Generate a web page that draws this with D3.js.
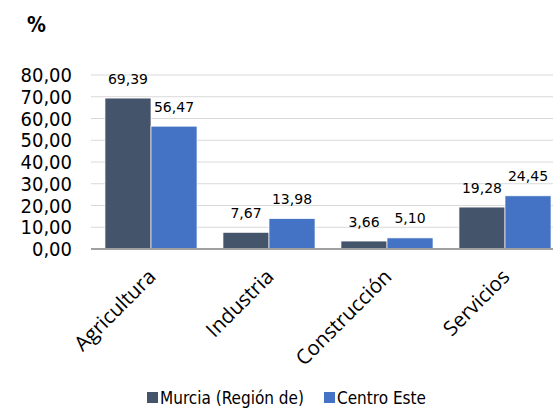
<!DOCTYPE html>
<html><head><meta charset="utf-8">
<script src="https://cdn.jsdelivr.net/npm/d3@7"></script>
<style>body{margin:0;background:#fff;}svg{display:block;}</style>
</head><body>
<svg id="c" width="553" height="411"></svg>
<script>
const categories = ["Agricultura", "Industria", "Construcción", "Servicios"];
const seriesNames = ["Murcia (Región de)", "Centro Este"];
const murcia = [69.39, 7.67, 3.66, 19.28];
const centroEste = [56.47, 13.98, 5.10, 24.45];
const yTicks = [0, 10, 20, 30, 40, 50, 60, 70, 80];
const colors = ["#44546A", "#4472C4"];

const svg = d3.select("#c");
const fmt = v => d3.format(".2f")(v).replace(".", ",");
const x = d3.scaleBand().domain(categories).range([92, 564]).paddingInner(0.22).paddingOuter(0.11);
const xs = d3.scaleBand().domain([0, 1]).range([0, x.bandwidth()]);
const y = d3.scaleLinear().domain([0, 80]).range([249, 75]);
const values = [murcia, centroEste];

// gridlines
svg.append("g").selectAll("line").data(yTicks.filter(d => d > 0)).join("line")
  .attr("x1", 91).attr("x2", 553).attr("y1", d => y(d)).attr("y2", d => y(d))
  .attr("stroke", "#d9d9d9").attr("stroke-width", 1);

// y labels
svg.append("g").selectAll("text").data(yTicks).join("text")
  .attr("x", 72).attr("y", d => y(d)).attr("dy", "0.36em")
  .attr("text-anchor", "end").attr("font-family", "DejaVu Sans Condensed")
  .attr("font-size", 20).attr("fill", "#000").text(fmt);

// bars
values.forEach((vals, si) => {
  svg.append("g").selectAll("rect").data(categories).join("rect")
    .attr("x", c => x(c) + xs(si)).attr("width", xs.bandwidth())
    .attr("y", (c, i) => y(vals[i])).attr("height", (c, i) => y(0) - y(vals[i]))
    .attr("fill", colors[si]).attr("stroke", "#ffffff").attr("stroke-width", 0.7);
  svg.append("g").selectAll("text").data(categories).join("text")
    .attr("x", c => x(c) + xs(si) + xs.bandwidth() / 2)
    .attr("y", (c, i) => y(vals[i]) - 14.5)
    .attr("text-anchor", "middle").attr("font-family", "DejaVu Sans")
    .attr("font-size", 14).attr("fill", "#000")
    .text((c, i) => fmt(vals[i]));
});

// axis line
svg.append("line").attr("x1", 91).attr("x2", 553).attr("y1", y(0)).attr("y2", y(0))
  .attr("stroke", "#a0a0a0").attr("stroke-width", 2);

// category labels
svg.append("g").selectAll("text").data(categories).join("text")
  .attr("transform", c => `translate(${x(c) + x.bandwidth() / 2 + 6},${y(0) + 29}) rotate(-45)`)
  .attr("text-anchor", "end").attr("font-family", "Open Sans")
  .attr("font-size", 20.5).attr("fill", "#000").text(c => c);

// % label
svg.append("text").attr("x", 27).attr("y", 32).attr("font-family", "DejaVu Sans Condensed")
  .attr("font-weight", "bold").attr("font-size", 21).attr("fill", "#000").text("%");

// legend
const legX = [147, 324];
seriesNames.forEach((n, i) => {
  svg.append("rect").attr("x", legX[i]).attr("y", 392).attr("width", 11).attr("height", 11).attr("fill", colors[i]);
  svg.append("text").attr("x", legX[i] + 13).attr("y", 403.5).attr("font-family", "DejaVu Sans Condensed")
    .attr("font-size", 17).attr("fill", "#000").text(n);
});
</script>
</body></html>
